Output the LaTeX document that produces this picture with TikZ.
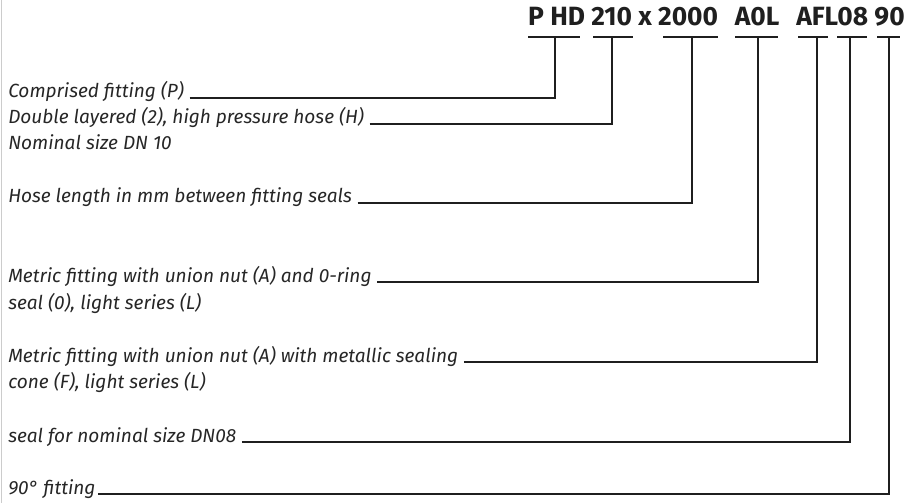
\documentclass[tikz,border=0pt]{standalone}
\usepackage{fontspec}
\setmainfont{Fira Sans}
\begin{document}
\begin{tikzpicture}[x=0.75pt,y=-0.75pt,
  desc/.style={anchor=base west,inner sep=0pt,font=\fontsize{14.3pt}{16pt}\selectfont\itshape,text=black!85},
  conn/.style={line width=1.5pt,draw=black!88},
  bar/.style={line width=1.5pt,draw=black!88}]
\useasboundingbox (0,0) rectangle (908,503);
\draw[draw=black!20,line width=1.2pt] (1.5,0) -- (1.5,503);
\node[anchor=base east,inner sep=0pt,font=\fontsize{19.8pt}{22pt}\selectfont\bfseries,text=black!88] (title) at (905,26) {P HD 210 x 2000\hspace{0.4em} A0L\hspace{0.4em} AFL08 90};
% bars
\coordinate (b1) at (555,37.5); \draw[bar] (528,37.5) -- (580,37.5);
\coordinate (b2) at (612,37.5); \draw[bar] (593,37.5) -- (633,37.5);
\coordinate (b3) at (692,37.5); \draw[bar] (663,37.5) -- (718,37.5);
\coordinate (b4) at (758,37.5); \draw[bar] (735,37.5) -- (778,37.5);
\coordinate (b5) at (816.5,37.5); \draw[bar] (798,37.5) -- (828,37.5);
\coordinate (b6) at (850,37.5); \draw[bar] (837,37.5) -- (867,37.5);
\coordinate (b7) at (888.5,37.5); \draw[bar] (877,37.5) -- (900,37.5);
% texts
\node[desc] (t1) at (8,98) {Comprised fitting (P)};
\node[desc] (t2) at (8,124) {Double layered (2), high pressure hose (H)};
\node[desc] (t3) at (8,150) {Nominal size DN 10};
\node[desc] (t4) at (8,203) {Hose length in mm between fitting seals};
\node[desc] (t5) at (8,282) {Metric fitting with union nut (A) and 0-ring};
\node[desc] (t6) at (8,309) {seal (0), light series (L)};
\node[desc] (t7) at (8,362) {Metric fitting with union nut (A) with metallic sealing};
\node[desc] (t8) at (8,388) {cone (F), light series (L)};
\node[desc] (t9) at (8,442) {seal for nominal size DN08};
\node[desc] (t10) at (8,494) {90° fitting};
% connectors
\draw[conn] ([xshift=4pt]t1.base east) -| (b1);
\draw[conn] ([xshift=4pt]t2.base east) -| (b2);
\draw[conn] ([xshift=4pt]t4.base east) -| (b3);
\draw[conn] ([xshift=4pt]t5.base east) -| (b4);
\draw[conn] ([xshift=4pt]t7.base east) -| (b5);
\draw[conn] ([xshift=4pt]t9.base east) -| (b6);
\draw[conn] ([xshift=2pt]t10.base east) -| (b7);
\end{tikzpicture}
\end{document}
